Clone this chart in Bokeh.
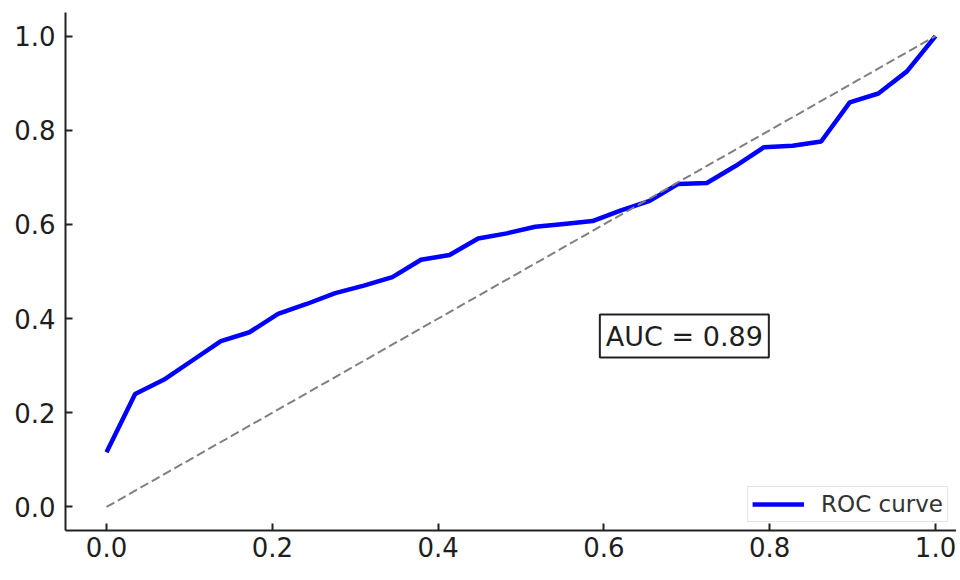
from bokeh.plotting import figure
from bokeh.models import (ColumnDataSource, FixedTicker, PrintfTickFormatter,
                          Label, Legend, LegendItem, Range1d)
from bokeh.embed import file_html
from bokeh.resources import INLINE

# ---- data ----
fpr = [i / 29 for i in range(30)]
tpr = [0.116, 0.240, 0.270, 0.311, 0.352, 0.371, 0.410, 0.431, 0.454, 0.470,
       0.488, 0.525, 0.535, 0.570, 0.581, 0.595, 0.601, 0.607, 0.630, 0.650,
       0.686, 0.688, 0.724, 0.764, 0.767, 0.776, 0.859, 0.878, 0.925, 1.000]
diag_x = [0.0, 1.0]
diag_y = [0.0, 1.0]
ticks = [0.0, 0.2, 0.4, 0.6, 0.8, 1.0]
auc_text = "AUC = 0.89"
legend_label = "ROC curve"

FONT = "DejaVu Sans"

p = figure(width=956, height=572, output_backend="svg", toolbar_location=None,
           x_range=Range1d(-0.0495, 1.0253), y_range=Range1d(-0.05, 1.05),
           min_border_left=65, min_border_top=12, min_border_right=0,
           min_border_bottom=42)
p.outline_line_color = None
p.xgrid.visible = False
p.ygrid.visible = False
p.background_fill_color = "white"
p.border_fill_color = "white"

src = ColumnDataSource(dict(x=fpr, y=tpr))
roc = p.line("x", "y", source=src, line_color="#0000ff", line_width=4.5)
p.line(diag_x, diag_y, line_color="#808080", line_width=2, line_dash="9 4")

for ax in (p.xaxis[0], p.yaxis[0]):
    ax.ticker = FixedTicker(ticks=ticks)
    ax.formatter = PrintfTickFormatter(format="%.1f")
    ax.major_label_text_font = FONT
    ax.major_label_text_font_size = "26px"
    ax.major_label_text_color = "#1e1e1e"
    ax.axis_line_color = "#222222"
    ax.axis_line_width = 2
    ax.major_tick_line_color = "#222222"
    ax.major_tick_line_width = 2
    ax.major_tick_in = 7
    ax.major_tick_out = 0
    ax.minor_tick_line_color = None
    ax.major_label_standoff = 10

p.xaxis[0].major_label_standoff = 6

lbl = Label(x=0.697, y=0.363, text=auc_text, text_align="center",
            text_baseline="middle", text_font=FONT, text_font_size="27px",
            text_color="#1e1e1e", background_fill_color="white",
            border_line_color="#222222", border_line_width=2, padding=6)
p.add_layout(lbl)

legend = Legend(items=[LegendItem(label=legend_label, renderers=[roc])],
                location="bottom_right", label_text_font=FONT,
                label_text_font_size="23px", label_text_color="#333333",
                border_line_color="#cccccc", border_line_width=1.5,
                background_fill_color="white", background_fill_alpha=0.85,
                glyph_width=52, label_standoff=17, padding=4, margin=8,
                label_height=26, glyph_height=26)
p.add_layout(legend)

open("out.html", "w").write(file_html(p, INLINE))
